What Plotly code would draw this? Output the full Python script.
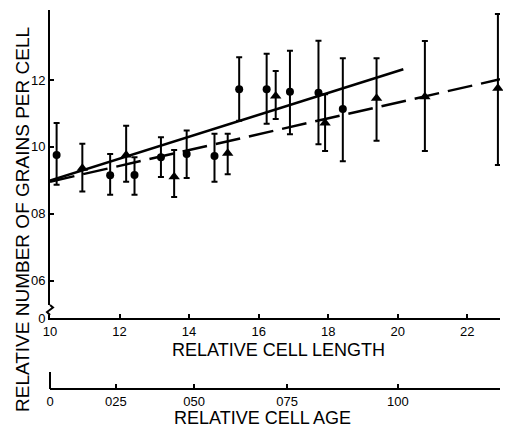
import plotly.graph_objects as go

# ---- data ----
circ_x = [1.019, 1.173, 1.243, 1.319, 1.393, 1.473, 1.544, 1.623, 1.690, 1.772, 1.842]
circ_y = [0.976, 0.915, 0.916, 0.969, 0.979, 0.973, 1.172, 1.172, 1.165, 1.162, 1.113]
circ_hi = [1.071, 0.979, 0.969, 1.029, 1.049, 1.039, 1.268, 1.278, 1.287, 1.317, 1.265]
circ_lo = [0.887, 0.857, 0.857, 0.910, 0.907, 0.896, 1.078, 1.069, 1.038, 1.008, 0.957]

tri_x = [1.093, 1.219, 1.357, 1.511, 1.649, 1.791, 1.939, 2.078, 2.288]
tri_y = [0.936, 0.976, 0.911, 0.981, 1.152, 1.071, 1.145, 1.150, 1.175]
tri_hi = [1.009, 1.063, 0.991, 1.039, 1.227, 1.157, 1.265, 1.316, 1.397]
tri_lo = [0.867, 0.896, 0.850, 0.918, 1.083, 0.988, 1.018, 0.988, 0.946]

solid_x = [1.0, 2.016]
solid_y = [0.899, 1.232]
dash_x = [1.0, 2.294]
dash_y = [0.896, 1.202]

x_tick_vals = [1.0, 1.2, 1.4, 1.6, 1.8, 2.0, 2.2]
x_tick_text = ["10", "12", "14", "16", "18", "20", "22"]
y_break_bottom = 0.4887  # broken axis: "0" drawn at bottom of visible range
y_tick_vals = [y_break_bottom, 0.6, 0.8, 1.0, 1.2]
y_tick_text = ["0", "06", "08", "10", "12"]
age_vals = [0, 0.25, 0.5, 0.75, 1.0]
age_text = ["0", "025", "050", "075", "100"]

X_RANGE = [1.0, 2.294]
Y_RANGE = [y_break_bottom, 1.409]

FONT = "Liberation Sans, Arial, sans-serif"

fig = go.Figure()

fig.add_trace(go.Scatter(x=solid_x, y=solid_y, mode="lines",
                         line=dict(color="black", width=2.5), hoverinfo="skip"))
fig.add_trace(go.Scatter(x=dash_x, y=dash_y, mode="lines",
                         line=dict(color="black", width=2.5, dash="25px,9px"), hoverinfo="skip"))

fig.add_trace(go.Scatter(
    x=circ_x, y=circ_y, mode="markers", cliponaxis=False,
    marker=dict(symbol="circle", size=8, color="black"),
    error_y=dict(type="data", symmetric=False,
                 array=[h - y for h, y in zip(circ_hi, circ_y)],
                 arrayminus=[y - l for l, y in zip(circ_lo, circ_y)],
                 color="black", thickness=2, width=3)))
fig.add_trace(go.Scatter(
    x=tri_x, y=tri_y, mode="markers", cliponaxis=False,
    marker=dict(symbol="triangle-up", size=10, color="black"),
    error_y=dict(type="data", symmetric=False,
                 array=[h - y for h, y in zip(tri_hi, tri_y)],
                 arrayminus=[y - l for l, y in zip(tri_lo, tri_y)],
                 color="black", thickness=2, width=3)))

# dummy trace so the age axis is drawn
fig.add_trace(go.Scatter(x=[None], y=[None], xaxis="x2", yaxis="y",
                         mode="markers", showlegend=False, hoverinfo="skip"))

OFF = 8  # page body margin
W, H = 511 - OFF, 428 - OFF
L, R, T = 50 - OFF, 11, 10 - OFF
B = H - (389 - OFF)
pw, ph = W - L - R, H - T - B


def px2paper(sx, sy):
    fx, fy = sx - OFF, sy - OFF
    return (fx - L) / pw, (H - B - fy) / ph


dom_bottom = px2paper(0, 318)[1]

fig.update_layout(
    width=W, height=H,
    margin=dict(l=L, r=R, t=T, b=B, pad=0),
    plot_bgcolor="white", paper_bgcolor="white",
    showlegend=False,
    font=dict(family=FONT, color="black", size=13),
    xaxis=dict(range=X_RANGE, tickvals=x_tick_vals, ticktext=x_tick_text,
               showline=True, linecolor="black", linewidth=2,
               ticks="inside", ticklen=4, tickwidth=2, tickcolor="black",
               showgrid=False, zeroline=False, anchor="y",
               tickfont=dict(size=13, family=FONT, color="black")),
    yaxis=dict(range=Y_RANGE, domain=[dom_bottom, 1], tickvals=y_tick_vals, ticktext=y_tick_text,
               showline=True, linecolor="black", linewidth=2,
               ticks="inside", ticklen=4, tickwidth=2, tickcolor="black",
               showgrid=False, zeroline=False,
               tickfont=dict(size=13, family=FONT, color="black")),
    xaxis2=dict(range=X_RANGE, overlaying="x", anchor="free", position=0,
                tickvals=[2 ** a for a in age_vals], ticktext=age_text,
                showline=True, linecolor="black", linewidth=2,
                ticks="inside", ticklen=4, tickwidth=2, tickcolor="black",
                showgrid=False, zeroline=False,
                tickfont=dict(size=13, family=FONT, color="black")),
)

# titles
yx, yy = px2paper(22, 220)
lx, ly = px2paper(278, 350)
ax_, ay_ = px2paper(262, 418)
fig.add_annotation(text="RELATIVE NUMBER OF GRAINS PER CELL", x=yx, y=yy, xref="paper", yref="paper",
                   textangle=-90, showarrow=False, font=dict(size=19, family=FONT, color="black"),
                   xanchor="center", yanchor="middle")
fig.add_annotation(text="RELATIVE CELL LENGTH", x=lx, y=ly, xref="paper", yref="paper",
                   showarrow=False, font=dict(size=18, family=FONT, color="black"),
                   xanchor="center", yanchor="middle")
fig.add_annotation(text="RELATIVE CELL AGE", x=ax_, y=ay_, xref="paper", yref="paper",
                   showarrow=False, font=dict(size=18, family=FONT, color="black"),
                   xanchor="center", yanchor="middle")

# left bar of the age axis
b0 = px2paper(50, 389)
b1 = px2paper(50, 372)
fig.add_shape(type="line", xref="paper", yref="paper", x0=b0[0], x1=b1[0], y0=b0[1], y1=b1[1],
              line=dict(color="black", width=2), layer="above")

# axis break symbol on y axis
r0 = px2paper(46, 315)
r1 = px2paper(54, 305)
fig.add_shape(type="rect", xref="paper", yref="paper", x0=r0[0], x1=r1[0], y0=r0[1], y1=r1[1],
              fillcolor="white", line=dict(width=0), layer="above")
pts = [px2paper(50, 305), px2paper(53, 307.5), px2paper(47, 312), px2paper(50, 315)]
path = "M {:.5f},{:.5f} L {:.5f},{:.5f} L {:.5f},{:.5f} L {:.5f},{:.5f}".format(
    *[c for p in pts for c in p])
fig.add_shape(type="path", xref="paper", yref="paper", path=path,
              line=dict(color="black", width=2), layer="above")

fig.write_html("out.html")
